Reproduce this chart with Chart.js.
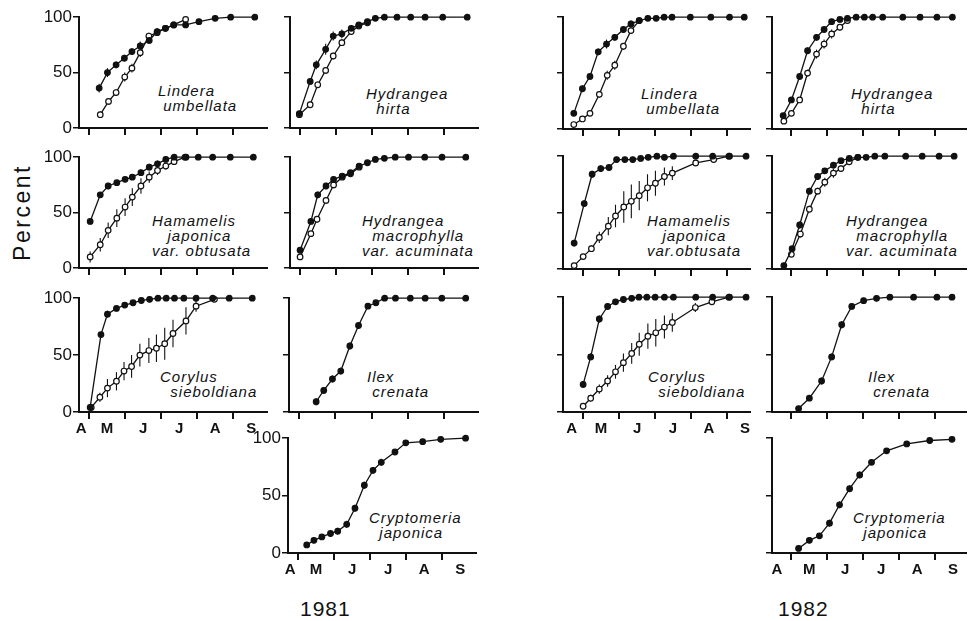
<!DOCTYPE html>
<html lang="en">
  <head>
    <meta charset="UTF-8" />
    <title>Cumulative percent, 1981 and 1982</title>
    <style>
      body { margin: 0; background: #fff; width: 969px; height: 621px; position: relative; overflow: hidden; font-family: "Liberation Sans", Arial, sans-serif; color: #111; }
      canvas { position: absolute; }
      .sp { position: absolute; font-style: italic; font-size: 15px; letter-spacing: 1px; line-height: 15px; white-space: nowrap; }
      .big { position: absolute; font-size: 21px; letter-spacing: 1px; }
    </style>
  </head>
  <body>
    <div class="big" style="left:-26px;top:199px;transform:rotate(-90deg);letter-spacing:2.5px;font-size:23px">Percent</div>
    <div class="big" style="left:300px;top:597px">1981</div>
    <div class="big" style="left:778px;top:597px">1982</div>
    <script src="https://cdn.jsdelivr.net/npm/chart.js@4.4.0/dist/chart.umd.min.js"></script>
    <script>
      // x values are months, 1 = May 1, 2 = June 1 ...
      const MONTHS = ["A", "M", "J", "J", "A", "S"];
      const Y_TICKS = [0, 50, 100];

      // 1981
      const lu81FilledX = [1.28, 1.51, 1.75, 1.98, 2.19, 2.42, 2.67, 2.89, 3.12, 3.35, 3.68, 4.05, 4.5, 4.93, 5.6];
      const lu81Filled = [36, 50, 57, 63, 69, 74, 79, 87, 90, 93, 93, 96, 99, 100, 100];
      const lu81FilledErr = [4, 4, 3, 3, 3, 4, 3, 3, 2, 2, 2, 1, 0, 0, 0];
      const lu81OpenX = [1.31, 1.54, 1.75, 1.99, 2.19, 2.42, 2.66, 2.89, 3.12, 3.35, 3.68];
      const lu81Open = [12, 24, 32, 46, 54, 68, 83, 86, 90, 93, 98];
      const lu81OpenErr = [3, 3, 3, 4, 4, 4, 3, 2, 2, 2, 1];

      const hh81FilledX = [0.98, 1.28, 1.45, 1.71, 1.92, 2.16, 2.42, 2.63, 2.87, 3.09, 3.34, 3.69, 4.07, 4.47, 4.96, 5.64];
      const hh81Filled = [13, 42, 57, 71, 83, 85, 90, 93, 96, 99, 100, 100, 100, 100, 100, 100];
      const hh81FilledErr = [2, 3, 4, 5, 4, 4, 3, 2, 1, 1, 0, 0, 0, 0, 0, 0];
      const hh81OpenX = [0.98, 1.28, 1.49, 1.71, 1.92, 2.16, 2.42, 2.63, 2.87];
      const hh81Open = [12, 21, 39, 52, 65, 77, 87, 92, 95];
      const hh81OpenErr = [2, 3, 3, 3, 3, 3, 3, 2, 1];

      const hj81FilledX = [1.03, 1.31, 1.53, 1.77, 2.0, 2.2, 2.44, 2.67, 2.9, 3.13, 3.36, 3.69, 4.03, 4.43, 4.92, 5.56];
      const hj81Filled = [42, 66, 74, 77, 80, 82, 86, 91, 94, 98, 100, 100, 100, 100, 100, 100];
      const hj81FilledErr = [2, 2, 3, 2, 2, 2, 3, 3, 3, 2, 1, 0, 0, 0, 0, 0];
      const hj81OpenX = [1.03, 1.31, 1.53, 1.77, 2.0, 2.2, 2.44, 2.67, 2.9, 3.13, 3.36, 3.66];
      const hj81Open = [10, 21, 34, 45, 55, 64, 74, 82, 88, 92, 96, 100];
      const hj81OpenErr = [5, 6, 7, 8, 8, 8, 7, 5, 4, 3, 2, 1];

      const hm81FilledX = [1.0, 1.3, 1.49, 1.72, 1.93, 2.17, 2.4, 2.64, 2.87, 3.09, 3.34, 3.64, 4.01, 4.46, 4.94, 5.6];
      const hm81Filled = [16, 42, 66, 74, 80, 83, 86, 92, 95, 98, 99, 100, 100, 100, 100, 100];
      const hm81FilledErr = [2, 2, 3, 3, 2, 2, 2, 2, 1, 1, 0, 0, 0, 0, 0, 0];
      const hm81OpenX = [1.0, 1.3, 1.47, 1.72, 1.93, 2.17, 2.4, 2.64];
      const hm81Open = [10, 31, 44, 61, 75, 82, 85, 91];
      const hm81OpenErr = [2, 2, 3, 3, 3, 2, 2, 2];

      const cs81FilledX = [1.03, 1.33, 1.51, 1.76, 1.99, 2.22, 2.45, 2.68, 2.91, 3.14, 3.37, 3.63, 3.97, 4.43, 4.89, 5.53];
      const cs81Filled = [4, 68, 86, 91, 94, 96, 98, 99, 100, 100, 100, 100, 100, 100, 100, 100];
      const cs81FilledErr = [1, 2, 3, 2, 2, 1, 1, 0, 0, 0, 0, 0, 0, 0, 0, 0];
      const cs81OpenX = [1.06, 1.3, 1.51, 1.76, 1.97, 2.18, 2.41, 2.66, 2.87, 3.1, 3.33, 3.69, 3.97, 4.48];
      const cs81Open = [4, 13, 21, 27, 36, 40, 50, 54, 56, 60, 69, 80, 93, 99];
      const cs81OpenErr = [1, 4, 8, 8, 8, 10, 10, 11, 12, 14, 12, 12, 5, 1];

      const ic81X = [1.47, 1.68, 1.92, 2.15, 2.4, 2.64, 2.9, 3.12, 3.36, 3.66, 4.07, 4.48, 4.94, 5.6];
      const ic81 = [9, 19, 29, 36, 58, 76, 93, 96, 100, 100, 100, 100, 100, 100];
      const ic81Err = [3, 3, 3, 3, 3, 3, 2, 1, 0, 0, 0, 0, 0, 0];

      const cj81X = [1.24, 1.44, 1.66, 1.9, 2.1, 2.35, 2.58, 2.84, 3.08, 3.31, 3.69, 3.99, 4.46, 4.96, 5.65];
      const cj81 = [7, 11, 14, 17, 19, 25, 39, 59, 72, 79, 88, 96, 97, 99, 100];
      const cj81Err = [1, 2, 2, 3, 3, 3, 3, 3, 3, 3, 2, 2, 1, 0, 0];

      // 1982
      const lu82FilledX = [0.74, 0.98, 1.19, 1.42, 1.65, 1.88, 2.12, 2.33, 2.56, 2.8, 3.03, 3.25, 3.47, 3.98, 4.55, 5.07, 5.48];
      const lu82Filled = [14, 36, 47, 69, 76, 82, 89, 94, 97, 99, 99, 100, 100, 100, 100, 100, 100];
      const lu82FilledErr = [2, 3, 3, 3, 4, 3, 3, 3, 2, 1, 0, 0, 0, 0, 0, 0, 0];
      const lu82OpenX = [0.74, 0.98, 1.19, 1.45, 1.67, 1.88, 2.12, 2.33, 2.56];
      const lu82Open = [4, 9, 14, 31, 48, 57, 74, 88, 97];
      const lu82OpenErr = [1, 2, 2, 3, 4, 4, 3, 3, 1];

      const hh82FilledX = [0.77, 1.0, 1.23, 1.45, 1.7, 1.91, 2.12, 2.35, 2.56, 2.8, 3.03, 3.26, 3.54, 4.1, 4.58, 5.05, 5.48];
      const hh82Filled = [12, 26, 47, 70, 82, 89, 96, 98, 99, 100, 100, 100, 100, 100, 100, 100, 100];
      const hh82FilledErr = [2, 2, 3, 3, 3, 2, 2, 1, 0, 0, 0, 0, 0, 0, 0, 0, 0];
      const hh82OpenX = [0.79, 1.0, 1.23, 1.45, 1.7, 1.91, 2.12, 2.35, 2.56];
      const hh82Open = [7, 14, 26, 50, 67, 76, 85, 91, 97];
      const hh82OpenErr = [1, 2, 2, 3, 4, 4, 4, 3, 1];

      const hj82FilledX = [0.75, 1.03, 1.25, 1.49, 1.72, 1.93, 2.16, 2.38, 2.6, 2.81, 3.05, 3.26, 3.51, 4.13, 4.6, 5.07, 5.53];
      const hj82Filled = [23, 58, 84, 89, 90, 97, 97, 97, 98, 99, 100, 99, 100, 100, 100, 100, 100];
      const hj82FilledErr = [3, 3, 3, 3, 2, 1, 1, 1, 1, 0, 0, 0, 0, 0, 0, 0, 0];
      const hj82OpenX = [0.75, 1.0, 1.23, 1.45, 1.7, 1.9, 2.13, 2.34, 2.56, 2.79, 3.01, 3.26, 3.48, 4.13, 4.63, 5.05];
      const hj82Open = [3, 11, 18, 28, 38, 47, 55, 60, 65, 72, 76, 82, 85, 94, 97, 100];
      const hj82OpenErr = [1, 2, 3, 5, 8, 10, 14, 15, 13, 12, 11, 8, 6, 3, 2, 1];

      const hm82FilledX = [0.79, 1.02, 1.23, 1.5, 1.73, 1.93, 2.17, 2.38, 2.61, 2.85, 3.08, 3.32, 3.6, 4.18, 4.64, 5.11, 5.53];
      const hm82Filled = [3, 18, 39, 69, 82, 87, 92, 96, 98, 99, 99, 100, 100, 100, 100, 100, 100];
      const hm82FilledErr = [1, 2, 3, 3, 3, 2, 2, 1, 1, 0, 0, 0, 0, 0, 0, 0, 0];
      const hm82OpenX = [1.0, 1.25, 1.5, 1.73, 1.93, 2.17, 2.38, 2.61, 2.85];
      const hm82Open = [13, 31, 53, 69, 77, 85, 89, 95, 99];
      const hm82OpenErr = [2, 3, 3, 3, 4, 4, 3, 2, 1];

      const cs82FilledX = [1.0, 1.21, 1.45, 1.68, 1.9, 2.12, 2.35, 2.55, 2.77, 3.0, 3.26, 3.51, 4.13, 4.6, 5.07, 5.53];
      const cs82Filled = [24, 48, 81, 92, 96, 98, 99, 100, 100, 100, 100, 100, 100, 100, 100, 100];
      const cs82FilledErr = [3, 3, 3, 3, 2, 1, 1, 0, 0, 0, 0, 0, 0, 0, 0, 0];
      const cs82OpenX = [1.0, 1.21, 1.45, 1.68, 1.9, 2.12, 2.35, 2.56, 2.8, 3.02, 3.26, 3.48, 4.12, 4.58, 5.05];
      const cs82Open = [5, 12, 20, 27, 35, 43, 51, 59, 66, 69, 74, 78, 91, 96, 100];
      const cs82OpenErr = [1, 3, 4, 5, 6, 8, 9, 10, 11, 12, 10, 8, 4, 2, 1];

      const ic82X = [1.2, 1.5, 1.84, 2.12, 2.4, 2.68, 3.01, 3.37, 3.74, 4.4, 5.05, 5.47];
      const ic82 = [3, 12, 27, 48, 76, 92, 97, 99, 100, 100, 100, 100];
      const ic82Err = [1, 2, 3, 3, 3, 2, 1, 0, 0, 0, 0, 0];

      const cj82X = [1.2, 1.5, 1.78, 2.06, 2.34, 2.62, 2.9, 3.23, 3.65, 4.21, 4.85, 5.47];
      const cj82 = [4, 11, 15, 26, 42, 56, 68, 79, 89, 95, 98, 99];
      const cj82Err = [1, 2, 2, 3, 3, 3, 3, 2, 2, 1, 0, 0];

      const S = (x, y, err, open) => ({ x, y, err, open });

      const panels = [
        { ax: 79, top: 14, bottom: 128, right: 267, xmin: 0.72, xmax: 5.94, yl: true, ml: false, aPos: 0.78,
          series: [S(lu81FilledX, lu81Filled, lu81FilledErr, false), S(lu81OpenX, lu81Open, lu81OpenErr, true)] },
        { ax: 290, top: 14, bottom: 128, right: 478, xmin: 0.72, xmax: 5.94, yl: false, ml: false, aPos: 0.78,
          series: [S(hh81FilledX, hh81Filled, hh81FilledErr, false), S(hh81OpenX, hh81Open, hh81OpenErr, true)] },
        { ax: 79, top: 154, bottom: 268, right: 267, xmin: 0.72, xmax: 5.94, yl: true, ml: false, aPos: 0.78,
          series: [S(hj81FilledX, hj81Filled, hj81FilledErr, false), S(hj81OpenX, hj81Open, hj81OpenErr, true)] },
        { ax: 290, top: 154, bottom: 268, right: 478, xmin: 0.72, xmax: 5.94, yl: false, ml: false, aPos: 0.78,
          series: [S(hm81FilledX, hm81Filled, hm81FilledErr, false), S(hm81OpenX, hm81Open, hm81OpenErr, true)] },
        { ax: 79, top: 295, bottom: 412, right: 267, xmin: 0.72, xmax: 5.94, yl: true, ml: true, aPos: 0.78,
          series: [S(cs81FilledX, cs81Filled, cs81FilledErr, false), S(cs81OpenX, cs81Open, cs81OpenErr, true)] },
        { ax: 289, top: 295, bottom: 412, right: 478, xmin: 0.72, xmax: 5.94, yl: false, ml: false, aPos: 0.78,
          series: [S(ic81X, ic81, ic81Err, false)] },
        { ax: 288, top: 435, bottom: 553, right: 476, xmin: 0.72, xmax: 5.94, yl: true, ml: true, aPos: 0.78,
          series: [S(cj81X, cj81, cj81Err, false)] },

        { ax: 563, top: 14, bottom: 129, right: 750, xmin: 0.44, xmax: 5.64, yl: false, ml: false, aPos: 0.68,
          series: [S(lu82FilledX, lu82Filled, lu82FilledErr, false), S(lu82OpenX, lu82Open, lu82OpenErr, true)] },
        { ax: 772, top: 14, bottom: 129, right: 966, xmin: 0.46, xmax: 5.86, yl: false, ml: false, aPos: 0.68,
          series: [S(hh82FilledX, hh82Filled, hh82FilledErr, false), S(hh82OpenX, hh82Open, hh82OpenErr, true)] },
        { ax: 563, top: 153, bottom: 269, right: 750, xmin: 0.44, xmax: 5.64, yl: false, ml: false, aPos: 0.68,
          series: [S(hj82FilledX, hj82Filled, hj82FilledErr, false), S(hj82OpenX, hj82Open, hj82OpenErr, true)] },
        { ax: 772, top: 153, bottom: 269, right: 966, xmin: 0.46, xmax: 5.86, yl: false, ml: false, aPos: 0.68,
          series: [S(hm82FilledX, hm82Filled, hm82FilledErr, false), S(hm82OpenX, hm82Open, hm82OpenErr, true)] },
        { ax: 563, top: 294, bottom: 412, right: 750, xmin: 0.44, xmax: 5.64, yl: false, ml: true, aPos: 0.68,
          series: [S(cs82FilledX, cs82Filled, cs82FilledErr, false), S(cs82OpenX, cs82Open, cs82OpenErr, true)] },
        { ax: 772, top: 294, bottom: 412, right: 966, xmin: 0.46, xmax: 5.86, yl: false, ml: false, aPos: 0.68,
          series: [S(ic82X, ic82, ic82Err, false)] },
        { ax: 772, top: 435, bottom: 553, right: 966, xmin: 0.46, xmax: 5.86, yl: false, ml: true, aPos: 0.6,
          series: [S(cj82X, cj82, cj82Err, false)] },
      ];

      const labels = [
        [158, 83, ["Lindera", "&nbsp;umbellata"]],
        [366, 86, ["Hydrangea", "&nbsp;&nbsp;hirta"]],
        [152, 213, ["Hamamelis", "&nbsp;&nbsp;&nbsp;japonica", "var. obtusata"]],
        [362, 213, ["Hydrangea", "&nbsp;&nbsp;macrophylla", "var. acuminata"]],
        [160, 369, ["Corylus", "&nbsp;&nbsp;sieboldiana"]],
        [367, 369, ["Ilex", "&nbsp;crenata"]],
        [369, 510, ["Cryptomeria", "&nbsp;&nbsp;japonica"]],
        [641, 86, ["Lindera", "&nbsp;umbellata"]],
        [851, 86, ["Hydrangea", "&nbsp;&nbsp;hirta"]],
        [647, 213, ["Hamamelis", "&nbsp;&nbsp;&nbsp;japonica", "var.obtusata"]],
        [846, 213, ["Hydrangea", "&nbsp;&nbsp;macrophylla", "var. acuminata"]],
        [648, 369, ["Corylus", "&nbsp;&nbsp;sieboldiana"]],
        [868, 369, ["Ilex", "&nbsp;crenata"]],
        [853, 510, ["Cryptomeria", "&nbsp;&nbsp;japonica"]],
      ];
      labels.forEach(([l, t, lines]) => {
        const d = document.createElement("div");
        d.className = "sp";
        d.style.left = l + "px";
        d.style.top = t + "px";
        d.innerHTML = lines.join("<br>");
        document.body.appendChild(d);
      });

      const errorBars = {
        id: "errorBars",
        beforeDatasetsDraw(chart) {
          const { ctx, scales: { x, y } } = chart;
          chart.data.datasets.forEach((ds) => {
            ctx.save();
            ctx.strokeStyle = "#111";
            ctx.lineWidth = 1.1;
            ds.data.forEach((p, j) => {
              const e = ds.err[j];
              if (!e) return;
              const px = x.getPixelForValue(p.x);
              ctx.beginPath();
              ctx.moveTo(px, y.getPixelForValue(Math.max(0, p.y - e)));
              ctx.lineTo(px, y.getPixelForValue(Math.min(100, p.y + e)));
              ctx.stroke();
            });
            ctx.restore();
          });
        },
      };

      const LEFT = 40, PADTOP = 8, XH = 30, PADR = 6;
      panels.forEach((p) => {
        const c = document.createElement("canvas");
        const w = p.right - p.ax + LEFT + PADR;
        const h = p.bottom - p.top + PADTOP + XH;
        c.width = w; c.height = h;
        c.style.left = p.ax - LEFT + "px";
        c.style.top = p.top - PADTOP + "px";
        c.style.width = w + "px"; c.style.height = h + "px";
        document.body.appendChild(c);

        const xTicks = [1, 2, 3, 4, 5].map((v) => ({ value: v, label: "" }));
        if (p.ml) {
          [p.aPos, 1.5, 2.5, 3.5, 4.5, 5.5].forEach((v, i) => xTicks.push({ value: v, label: MONTHS[i] }));
        }
        xTicks.sort((a, b) => a.value - b.value);

        new Chart(c, {
          type: "line",
          data: {
            datasets: p.series.map((s) => ({
              data: s.x.map((x, i) => ({ x, y: s.y[i] })),
              err: s.err,
              borderColor: "#111",
              borderWidth: 1.3,
              pointRadius: 2.8,
              pointBorderWidth: 1.2,
              pointBorderColor: "#111",
              pointBackgroundColor: s.open ? "#fff" : "#111",
              tension: 0,
              clip: false,
              order: s.open ? 1 : 0,
            })),
          },
          options: {
            responsive: false,
            animation: false,
            devicePixelRatio: 1,
            layout: { padding: { top: PADTOP, right: PADR, left: 0, bottom: 0 } },
            plugins: { legend: { display: false }, tooltip: { enabled: false } },
            scales: {
              x: {
                type: "linear",
                min: p.xmin,
                max: p.xmax,
                afterBuildTicks: (sc) => { sc.ticks = xTicks.map((t) => ({ value: t.value })); },
                afterFit: (sc) => { sc.height = XH; },
                border: { display: true, color: "#111", width: 2 },
                grid: {
                  drawOnChartArea: false,
                  drawTicks: true,
                  tickLength: 7,
                  lineWidth: 2,
                  color: (ctx) => (ctx.tick && Number.isInteger(ctx.tick.value) ? "#111" : "rgba(0,0,0,0)"),
                },
                ticks: {
                  autoSkip: false,
                  maxRotation: 0,
                  padding: 1,
                  color: "#111",
                  font: { family: "Liberation Sans", size: 15, weight: "bold" },
                  callback: (v) => { const t = xTicks.find((k) => k.value === v); return t ? t.label : ""; },
                },
              },
              y: {
                min: 0,
                max: 100,
                afterBuildTicks: (sc) => { sc.ticks = Y_TICKS.map((v) => ({ value: v })); },
                afterFit: (sc) => { sc.width = LEFT; },
                border: { display: true, color: "#111", width: 2 },
                grid: { drawOnChartArea: false, drawTicks: true, tickLength: 6, lineWidth: 1.5, color: "#111" },
                ticks: {
                  padding: 1,
                  color: "#111",
                  font: { family: "Liberation Sans", size: 17 },
                  callback: (v) => (p.yl ? String(v) : ""),
                },
              },
            },
          },
          plugins: [errorBars],
        });
      });
    </script>
  </body>
</html>
